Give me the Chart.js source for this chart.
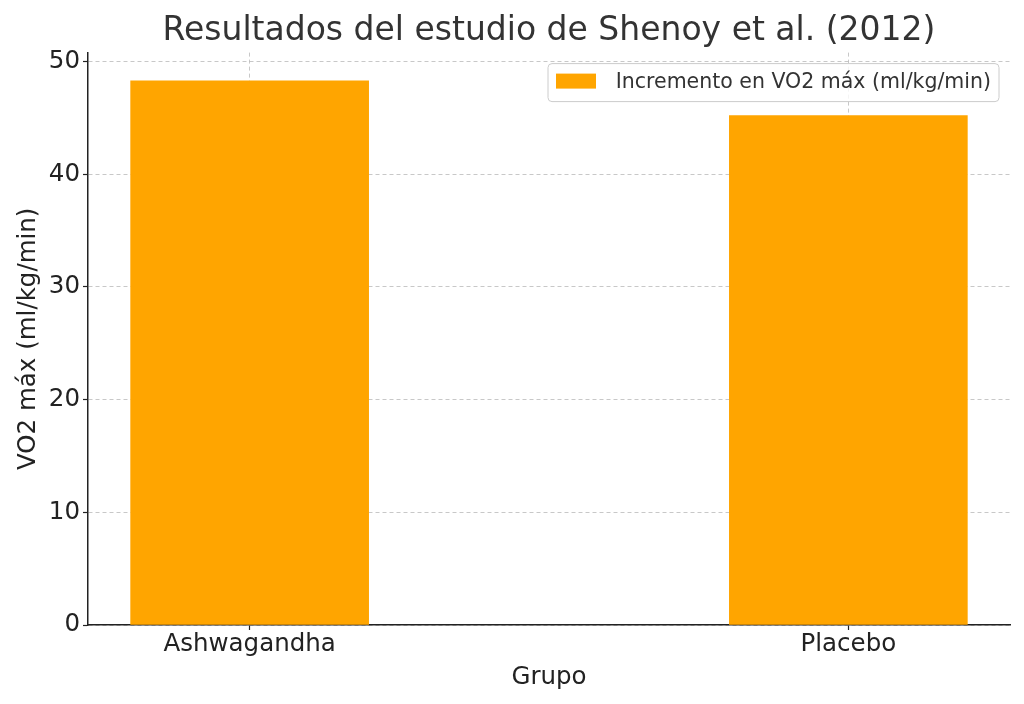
<!DOCTYPE html>
<html>
<head>
<meta charset="utf-8">
<script src="https://cdn.jsdelivr.net/npm/chart.js@4/dist/chart.umd.min.js"></script>
<style>
  html, body { margin: 0; padding: 0; background: #fff; }
  #wrap { width: 1024px; height: 704px; }
</style>
</head>
<body>
<div id="wrap"><canvas id="chart" width="1024" height="704"></canvas></div>
<script>
// Chart data
const groups = ['Ashwagandha', 'Placebo'];
const vo2Increase = [48.3, 45.2];
const yTicks = [0, 10, 20, 30, 40, 50];

const FONT = "'DejaVu Sans', sans-serif";
const ORANGE = '#FFA500';

// Legend box drawn inside the plot area, top right (matplotlib style)
const insideLegend = {
    id: 'insideLegend',
    afterDraw: function(chart) {
        const ctx = chart.ctx;
        const area = chart.chartArea;
        const ds = chart.data.datasets[0];
        ctx.save();
        ctx.font = '20.5px ' + FONT;
        const x = 548;
        const w = area.right - 11 - x;
        const h = 38;
        const y = area.top + 11;
        // rounded frame
        ctx.beginPath();
        ctx.roundRect(x, y, w, h, 4);
        ctx.fillStyle = 'rgba(255,255,255,0.8)';
        ctx.fill();
        ctx.strokeStyle = '#cccccc';
        ctx.lineWidth = 1;
        ctx.stroke();
        // swatch
        ctx.fillStyle = ds.backgroundColor;
        ctx.fillRect(x + 8, y + 10, 40, 15);
        // label
        ctx.fillStyle = '#333333';
        ctx.textBaseline = 'middle';
        ctx.textAlign = 'right';
        ctx.fillText(ds.label, x + w - 8, y + h / 2);
        ctx.restore();
    }
};

const gridOpts = {
    color: 'rgba(176,176,176,0.7)',
    lineWidth: 1,
    offset: false,
    drawTicks: true,
    tickLength: 5,
    tickColor: '#222222',
    tickBorderDash: [],
    tickWidth: 1.2
};

const ctx = document.getElementById('chart').getContext('2d');
new Chart(ctx, {
    type: 'bar',
    data: {
        datasets: [{
            label: 'Incremento en VO2 máx (ml/kg/min)',
            data: groups.map((g, i) => ({ x: i, y: vo2Increase[i] })),
            backgroundColor: ORANGE,
            borderWidth: 0,
            barThickness: 238
        }]
    },
    options: {
        responsive: false,
        animation: false,
        devicePixelRatio: 1,
        layout: { padding: { left: 0, right: 14, top: 0, bottom: 0 } },
        plugins: {
            legend: { display: false },
            tooltip: { enabled: false },
            title: {
                display: true,
                fullSize: false,
                text: 'Resultados del estudio de Shenoy et al. (2012)',
                color: '#333333',
                font: { family: FONT, size: 33, weight: 'normal' },
                padding: { top: 12, bottom: 1 }
            }
        },
        scales: {
            x: {
                type: 'linear',
                min: -0.27,
                max: 1.27,
                offset: false,
                z: 1,
                afterBuildTicks: function(scale) {
                    scale.ticks = groups.map((g, i) => ({ value: i }));
                },
                afterFit: function(scale) { scale.height = 79; },
                ticks: {
                    callback: (v) => groups[v],
                    color: '#222222',
                    font: { family: FONT, size: 24.5 },
                    padding: 0,
                    maxRotation: 0
                },
                grid: gridOpts,
                border: { display: true, color: '#222222', width: 1.5, dash: [4, 3] },
                title: {
                    display: true,
                    text: 'Grupo',
                    color: '#222222',
                    font: { family: FONT, size: 24.5 },
                    padding: { top: 0, bottom: 12 }
                }
            },
            y: {
                min: 0,
                max: 50.8,
                z: 1,
                afterBuildTicks: function(scale) {
                    scale.ticks = yTicks.map(v => ({ value: v }));
                },
                afterFit: function(scale) { scale.width = 88; },
                ticks: {
                    color: '#222222',
                    font: { family: FONT, size: 24.5 },
                    padding: 3
                },
                grid: gridOpts,
                border: { display: true, color: '#222222', width: 1.5, dash: [4, 3] },
                title: {
                    display: true,
                    text: 'VO2 máx (ml/kg/min)',
                    color: '#222222',
                    font: { family: FONT, size: 24.5 },
                    padding: { top: 14, bottom: 0 }
                }
            }
        }
    },
    plugins: [insideLegend]
});
</script>
</body>
</html>
